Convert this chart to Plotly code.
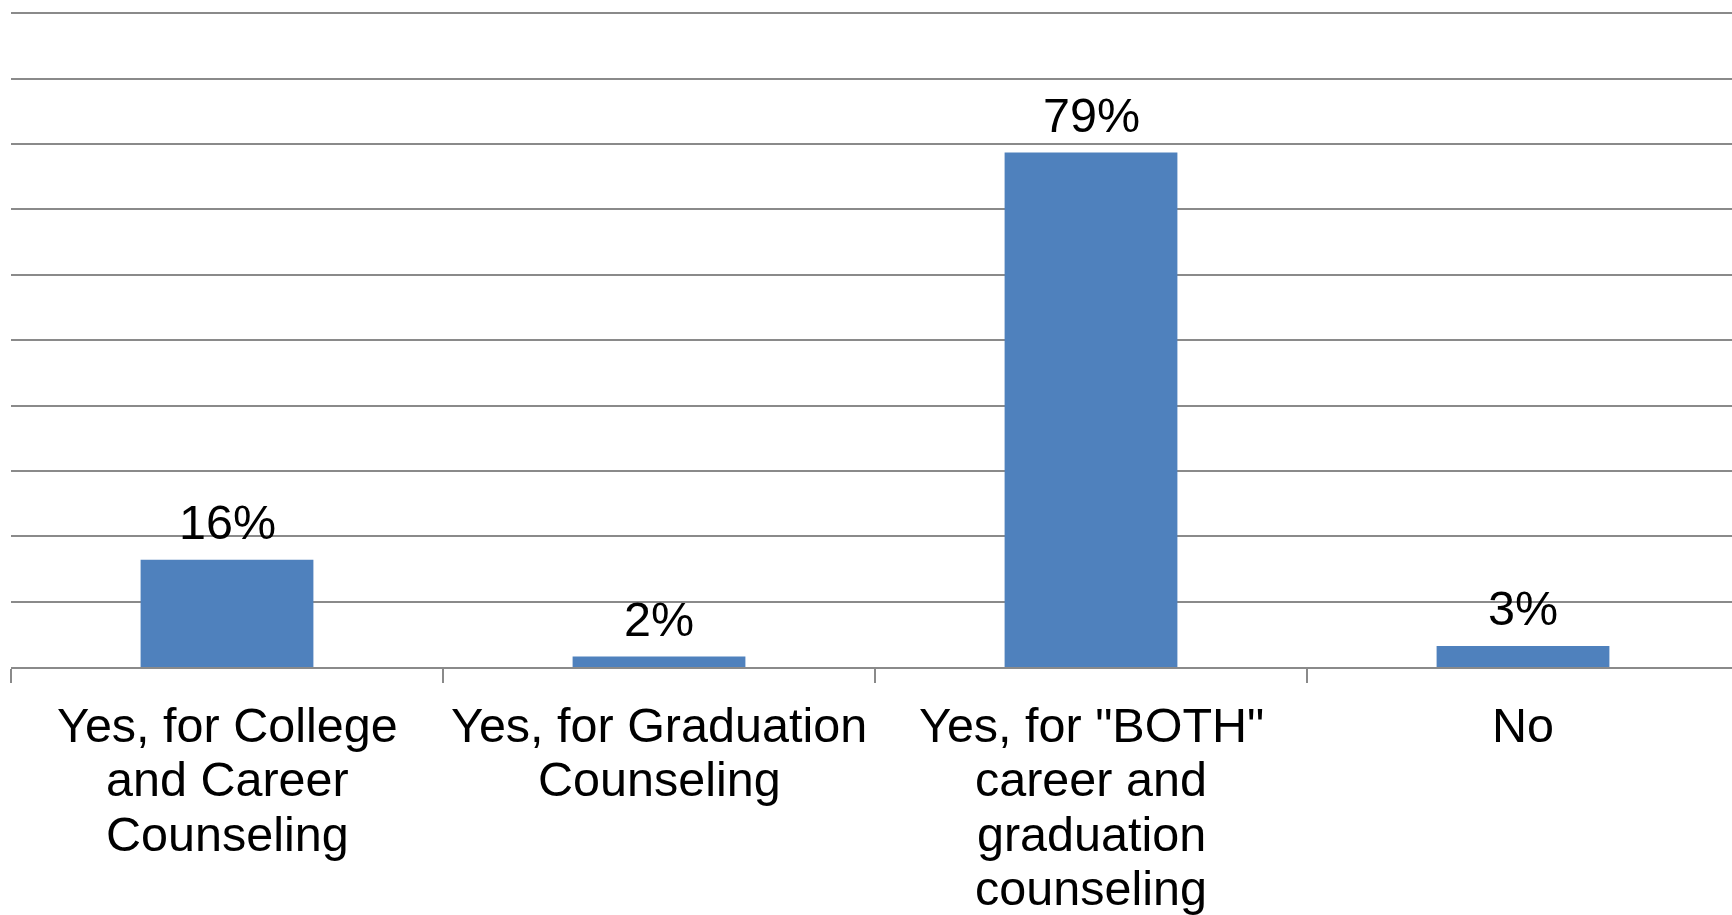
import plotly.graph_objects as go

categories = [
    "Yes, for College and Career Counseling",
    "Yes, for Graduation Counseling",
    'Yes, for "BOTH" career and graduation counseling',
    "No",
]
label_lines = [
    ["Yes, for College", "and Career", "Counseling"],
    ["Yes, for Graduation", "Counseling"],
    ['Yes, for "BOTH"', "career and", "graduation", "counseling"],
    ["No"],
]
values = [16.4, 1.6, 78.7, 3.2]
value_labels = ["16%", "2%", "79%", "3%"]
y_ticks = list(range(0, 101, 10))

FONT = "Liberation Sans, Arial, sans-serif"
FS = 48.5
GRID = "#8a8a8a"

fig = go.Figure()
fig.add_trace(go.Bar(
    x=categories, y=values, width=0.4,
    marker=dict(color="#4F81BD", line=dict(width=0)),
    hoverinfo="skip",
))

annotations = []
for cat, v, lab in zip(categories, values, value_labels):
    annotations.append(dict(
        x=cat, y=v, xref="x", yref="y", text=lab, showarrow=False,
        yanchor="middle", xanchor="center", yshift=38,
        font=dict(family=FONT, size=FS, color="#000000"),
    ))
for cat, lines in zip(categories, label_lines):
    for i, line in enumerate(lines):
        annotations.append(dict(
            x=cat, y=0, xref="x", yref="paper", text=line, showarrow=False,
            yanchor="middle", xanchor="center", yshift=-58 - 54.3 * i,
            font=dict(family=FONT, size=FS, color="#000000"),
        ))

fig.update_layout(
    width=1732, height=915,
    margin=dict(l=11, r=0, t=10, b=248, pad=0),
    plot_bgcolor="white", paper_bgcolor="white",
    showlegend=False,
    bargap=0.6,
    annotations=annotations,
    xaxis=dict(
        type="category", range=[-0.5, -0.5 + (1732 - 11) / 432],
        showticklabels=False, ticks="outside", tickson="boundaries",
        ticklen=14, tickwidth=1.5, tickcolor=GRID,
        showline=True, linecolor=GRID, linewidth=1.5,
        showgrid=False, fixedrange=True,
    ),
    yaxis=dict(
        range=[0, 100.5], tickvals=y_ticks, showticklabels=False,
        showgrid=True, gridcolor=GRID, gridwidth=1.5,
        zeroline=False, showline=False, ticks="",
    ),
)

fig.write_html("out.html")
